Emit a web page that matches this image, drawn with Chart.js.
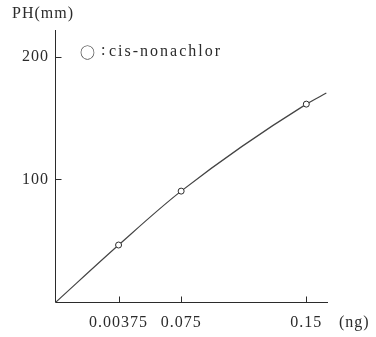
<!DOCTYPE html>
<html lang="en">
<head>
  <meta charset="UTF-8" />
  <title>cis-nonachlor</title>
  <script src="https://cdn.jsdelivr.net/npm/chart.js"></script>
  <style>
    body { margin: 0; background: #fff; }
    canvas { display: block; }
  </style>
</head>
<body>
<canvas id="grafico" width="376" height="337"></canvas>

<script>
  // dati
  const xTickValues = [0.0375, 0.075, 0.15];
  const xTickLabels = ['0.00375', '0.075', '0.15'];
  const yTickValues = [100, 200];
  const yTickLabels = ['100', '200'];

  const pointX = [0.0375, 0.075, 0.15];
  const pointY = [46.5, 90.5, 161.5];

  const curveX = [0, 0.0375, 0.075, 0.15, 0.162];
  const curveY = [0, 46.5, 90.5, 161.5, 170.5];

  const ink = '#2b2b2b';
  const fontName = '"Liberation Serif", serif';

  // assi, tacche interne + testi extra
  const extraPlugin = {
    id: 'extra',
    beforeDraw(chart) {
      chart.ctx.letterSpacing = '1px';
    },
    afterDraw(chart) {
      const ctx = chart.ctx;
      const xs = chart.scales.x, ys = chart.scales.y;
      const area = chart.chartArea;
      const left = Math.round(area.left) - 0.5;
      const bottom = Math.round(area.bottom) + 0.5;
      ctx.save();
      ctx.strokeStyle = ink;
      ctx.lineWidth = 1;
      ctx.beginPath();
      ctx.moveTo(left, Math.round(area.top));
      ctx.lineTo(left, bottom);
      ctx.lineTo(Math.round(area.right), bottom);
      xTickValues.forEach(v => {
        const px = Math.round(xs.getPixelForValue(v)) + 0.5;
        ctx.moveTo(px, bottom);
        ctx.lineTo(px, bottom - 6);
      });
      yTickValues.forEach(v => {
        const py = Math.round(ys.getPixelForValue(v)) + 0.5;
        ctx.moveTo(left, py);
        ctx.lineTo(left + 6, py);
      });
      ctx.stroke();

      ctx.fillStyle = ink;
      ctx.font = '16px ' + fontName;
      ctx.letterSpacing = '1px';
      ctx.textBaseline = 'middle';
      ctx.textAlign = 'left';
      ctx.fillText('PH(mm)', 12, 14);
      ctx.fillText('(ng)', 339, 323);

      // legenda
      ctx.font = '15px "Noto Sans CJK JP"';
      ctx.letterSpacing = '0px';
      ctx.fillText('○', 80, 52);
      ctx.font = '16px ' + fontName;
      ctx.fillText(':', 101, 51);
      ctx.letterSpacing = '2px';
      ctx.fillText('cis-nonachlor', 109, 52);
      ctx.restore();
    }
  };

  new Chart(document.getElementById('grafico'), {
    data: {
      datasets: [{
        type: 'line',
        label: 'cis-nonachlor',
        data: pointX.map((x, i) => ({ x: x, y: pointY[i] })),
        showLine: false,
        pointRadius: 3,
        pointBackgroundColor: '#fff',
        pointBorderColor: ink,
        pointBorderWidth: 1
      }, {
        type: 'line',
        label: 'curva',
        data: curveX.map((x, i) => ({ x: x, y: curveY[i] })),
        borderColor: '#444',
        borderWidth: 1.2,
        pointRadius: 0,
        cubicInterpolationMode: 'monotone',
        fill: false
      }]
    },
    options: {
      responsive: false,
      animation: false,
      layout: { padding: { top: 30, right: 48, left: 0, bottom: 0 } },
      plugins: {
        legend: { display: false },
        tooltip: { enabled: false }
      },
      scales: {
        x: {
          type: 'linear',
          position: 'bottom',
          min: 0,
          max: 0.163,
          afterBuildTicks: s => { s.ticks = xTickValues.map(v => ({ value: v })); },
          afterFit: s => { s.height = 35; },
          grid: { display: false, drawTicks: false },
          border: { display: false },
          ticks: {
            color: ink,
            padding: 11,
            maxRotation: 0,
            autoSkip: false,
            font: { family: fontName, size: 16 },
            callback: v => {
              const i = xTickValues.indexOf(v);
              return i >= 0 ? xTickLabels[i] : '';
            }
          }
        },
        y: {
          type: 'linear',
          min: 0,
          max: 222,
          afterBuildTicks: s => { s.ticks = yTickValues.map(v => ({ value: v })); },
          afterFit: s => { s.width = 56; },
          grid: { display: false, drawTicks: false },
          border: { display: false },
          ticks: {
            color: ink,
            padding: 7,
            font: { family: fontName, size: 16 },
            callback: v => {
              const i = yTickValues.indexOf(v);
              return i >= 0 ? yTickLabels[i] : '';
            }
          }
        }
      }
    },
    plugins: [extraPlugin]
  });
</script>
</body>
</html>
